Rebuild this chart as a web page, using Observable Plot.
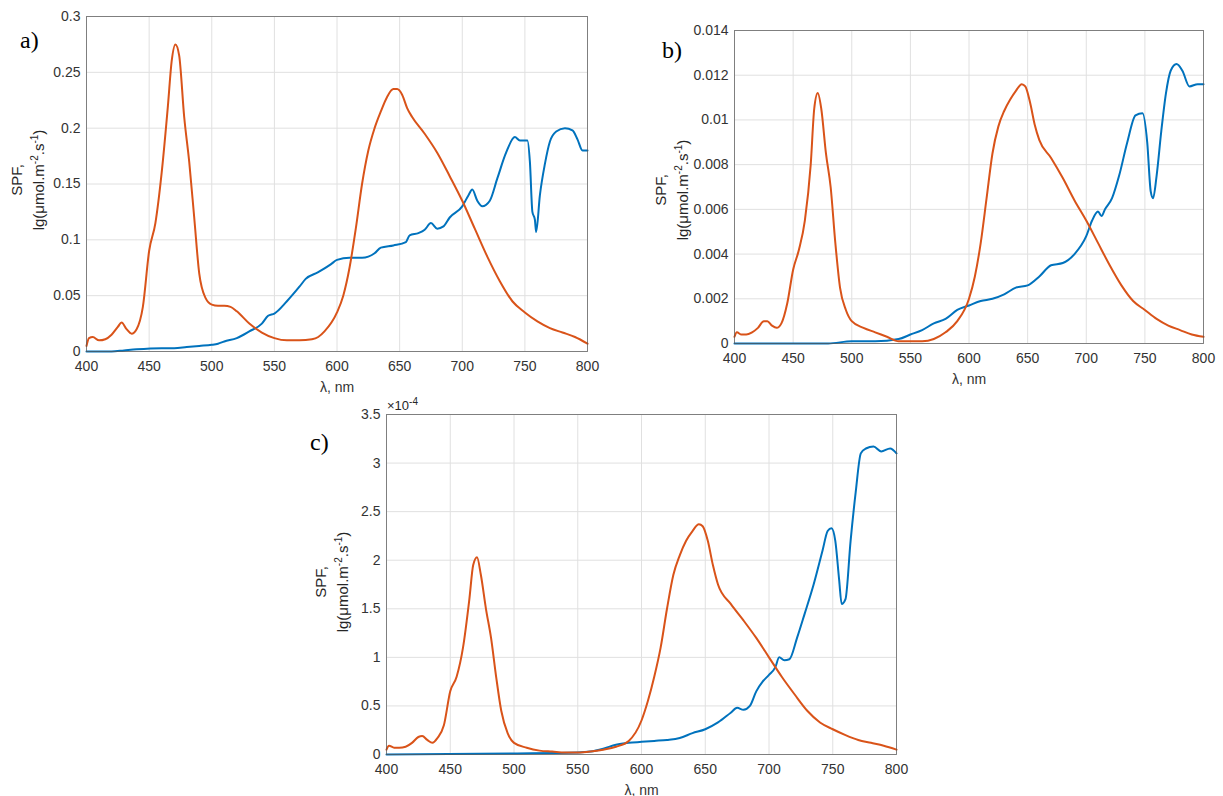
<!DOCTYPE html>
<html>
<head>
<meta charset="utf-8">
<script src="https://cdn.jsdelivr.net/npm/d3@7"></script>
<script src="https://cdn.jsdelivr.net/npm/@observablehq/plot@0.6"></script>
<style>
  body { margin: 0; background: #fff; font-family: "Liberation Sans", Arial, sans-serif; }
  #wrap { position: relative; width: 1223px; height: 796px; overflow: hidden; }
  .panel { position: absolute; }
  .tag { position: absolute; font-family: "Liberation Serif", "DejaVu Serif", serif; font-size: 24px; line-height: 24px; }
  .ylab { position: absolute; transform: rotate(-90deg) translateX(-50%); transform-origin: left top; font-size: 15px; text-align: center; line-height: 18px; white-space: nowrap; color: #262626; }
  .expo { position: absolute; font-size: 13px; color: #262626; }
</style>
</head>
<body>
<div id="wrap"></div>
<script>
"use strict";

// a) wavelengths / values
const a_orange_x = [400,402,405,410,415,420,425,428,432,436,440,445,450,455,460,465,468,471,474,478,482,486,490,495,500,505,510,515,520,530,540,550,560,570,580,585,590,600,605,610,615,620,625,630,635,640,645,648,652,656,660,670,680,690,700,710,720,730,740,750,760,770,780,790,800]
const a_orange_y = [0.005,0.012,0.013,0.010,0.011,0.015,0.022,0.026,0.020,0.016,0.020,0.040,0.090,0.115,0.160,0.220,0.260,0.275,0.265,0.210,0.170,0.120,0.070,0.048,0.042,0.041,0.041,0.040,0.036,0.025,0.017,0.012,0.010,0.010,0.011,0.013,0.018,0.035,0.050,0.075,0.110,0.150,0.180,0.200,0.215,0.228,0.235,0.235,0.230,0.218,0.210,0.195,0.178,0.157,0.135,0.110,0.085,0.063,0.045,0.035,0.027,0.021,0.017,0.013,0.007]
const a_blue_x = [400,420,430,440,460,470,480,490,500,505,510,520,530,540,545,550,560,570,575,585,595,600,610,620,625,630,635,645,655,658,665,670,675,680,685,690,700,705,708,712,716,722,728,735,742,746,752,754,756,758,759,762,766,770,775,782,788,792,796,800]
const a_blue_y = [0,0,0.001,0.002,0.003,0.003,0.004,0.005,0.006,0.007,0.009,0.012,0.018,0.025,0.032,0.034,0.045,0.058,0.065,0.071,0.078,0.082,0.084,0.084,0.085,0.088,0.093,0.095,0.098,0.104,0.106,0.109,0.115,0.110,0.112,0.120,0.130,0.140,0.145,0.135,0.130,0.135,0.155,0.178,0.192,0.189,0.189,0.170,0.125,0.118,0.107,0.140,0.168,0.188,0.197,0.200,0.198,0.190,0.180,0.180]

// b)
const b_orange_x = [400,402,406,410,415,420,425,428,432,436,440,445,450,455,460,465,468,471,474,478,482,486,490,495,500,510,520,530,540,550,560,570,580,590,600,605,610,615,620,625,630,635,640,645,648,652,656,660,670,680,690,700,710,720,730,740,750,760,770,780,790,800]
const b_orange_y = [0.0003,0.0005,0.0004,0.0004,0.0005,0.0007,0.001,0.001,0.0008,0.0007,0.0009,0.0018,0.0033,0.0042,0.0055,0.008,0.0105,0.0112,0.0105,0.0085,0.007,0.0045,0.0025,0.0015,0.001,0.0007,0.0005,0.0003,0.0001,0.0001,0.0001,0.0002,0.0005,0.001,0.002,0.003,0.0045,0.0065,0.0085,0.0097,0.0104,0.0109,0.0113,0.0116,0.0115,0.0108,0.0098,0.0091,0.0083,0.0074,0.0064,0.0055,0.0045,0.0035,0.0026,0.0019,0.0015,0.0011,0.0008,0.0006,0.0004,0.0003]
const b_blue_x = [400,480,500,520,540,550,560,570,580,590,600,610,620,630,640,650,660,670,680,690,700,705,710,713,716,722,728,735,742,748,752,755,757,760,764,768,772,777,782,788,795,800]
const b_blue_y = [0,0,0.0001,0.0001,0.0002,0.0004,0.0006,0.0009,0.0011,0.0015,0.0017,0.0019,0.002,0.0022,0.0025,0.0026,0.003,0.0035,0.0036,0.004,0.0048,0.0055,0.0059,0.0057,0.006,0.0065,0.0075,0.009,0.0102,0.0103,0.009,0.0068,0.0065,0.0075,0.0095,0.0112,0.0122,0.0125,0.0122,0.0115,0.0116,0.0116]

// c) values in units of 1e-4
const c_orange_x = [400,402,406,410,415,420,425,428,432,436,440,445,450,455,460,465,468,471,474,478,482,486,490,495,500,510,520,530,540,550,560,570,580,590,600,605,610,615,620,625,630,635,640,645,648,652,656,660,670,680,690,700,710,720,730,740,750,760,770,780,790,800]
const c_orange_y = [0.05,0.09,0.07,0.07,0.08,0.12,0.18,0.19,0.15,0.12,0.17,0.3,0.65,0.8,1.1,1.6,1.95,2.03,1.85,1.5,1.2,0.8,0.45,0.22,0.12,0.07,0.04,0.03,0.02,0.02,0.03,0.05,0.08,0.14,0.35,0.55,0.8,1.1,1.5,1.85,2.05,2.2,2.3,2.37,2.35,2.2,1.95,1.75,1.55,1.38,1.2,1.0,0.8,0.62,0.45,0.33,0.26,0.2,0.15,0.12,0.09,0.05]
const c_blue_x = [400,500,550,560,570,580,590,600,610,620,630,640,650,660,670,675,680,685,690,695,700,705,708,712,716,722,728,735,742,746,749,752,755,757,760,764,768,772,776,782,788,795,800]
const c_blue_y = [0,0.01,0.02,0.03,0.06,0.1,0.12,0.13,0.14,0.15,0.17,0.22,0.26,0.33,0.43,0.48,0.46,0.5,0.65,0.75,0.82,0.9,1.0,0.97,0.98,1.2,1.45,1.75,2.1,2.3,2.33,2.2,1.8,1.55,1.6,2.2,2.7,3.1,3.15,3.17,3.12,3.15,3.1]

const x_ticks = [400,450,500,550,600,650,700,750,800]
const a_y_ticks = [0,0.05,0.1,0.15,0.2,0.25,0.3]
const b_y_ticks = [0,0.002,0.004,0.006,0.008,0.01,0.012,0.014]
const c_y_ticks = [0,0.5,1,1.5,2,2.5,3,3.5]

const ORANGE = "#D95319"
const BLUE = "#0072BD"
const wrap = document.querySelector("#wrap")
const zip = (xs, ys) => xs.map((x, i) => ({x, y: ys[i]}))

function panel(o) {
   const ml = 60, mt = 12, mr = 14, mb = 44
   const p = Plot.plot({
      width: o.w + ml + mr,
      height: o.h + mt + mb,
      marginLeft: ml, marginTop: mt, marginRight: mr, marginBottom: mb,
      style: {fontFamily: "Liberation Sans, Arial, sans-serif", fontSize: "14px", color: "#333", background: "transparent"},
      x: {domain: [400, 800], ticks: x_ticks, tickSize: 0, tickPadding: 10, label: "λ, nm", labelAnchor: "center", labelArrow: "none", labelOffset: 40},
      y: {domain: [0, o.ymax], ticks: o.yticks, tickSize: 0, tickPadding: 6, label: null, tickFormat: d => d3.format("")(d)},
      marks: [
         Plot.gridX(x_ticks, {stroke: "#e0e0e0", strokeOpacity: 1}),
         Plot.gridY(o.yticks, {stroke: "#e0e0e0", strokeOpacity: 1}),
         Plot.lineY(zip(o.bx, o.by), {x: "x", y: "y", stroke: BLUE, strokeWidth: 2, curve: "monotone-x"}),
         Plot.lineY(zip(o.ox, o.oy), {x: "x", y: "y", stroke: ORANGE, strokeWidth: 2, curve: "monotone-x"}),
         Plot.frame({stroke: "#555", strokeOpacity: 0.7})
      ]
   })
   p.classList.add("panel")
   p.style.left = (o.left - ml) + "px"
   p.style.top = (o.top - mt) + "px"
   wrap.append(p)

   const lab = document.createElement("div")
   lab.className = "ylab"
   lab.innerHTML = "SPF,<br>lg(μmol.m<sup style='font-size:10px'>-2</sup>.s<sup style='font-size:10px'>-1</sup>)"
   lab.style.left = o.labX + "px"
   lab.style.top = o.labY + "px"
   wrap.append(lab)

   const tag = document.createElement("div")
   tag.className = "tag"
   tag.textContent = o.tag
   tag.style.left = o.tagX + "px"
   tag.style.top = o.tagY + "px"
   wrap.append(tag)
}

panel({left: 86, top: 16, w: 501, h: 335, ymax: 0.3, yticks: a_y_ticks,
   ox: a_orange_x, oy: a_orange_y, bx: a_blue_x, by: a_blue_y,
   labX: 8, labY: 180, tag: "a)", tagX: 20, tagY: 28})
panel({left: 734, top: 30, w: 469, h: 313, ymax: 0.014, yticks: b_y_ticks,
   ox: b_orange_x, oy: b_orange_y, bx: b_blue_x, by: b_blue_y,
   labX: 652, labY: 190, tag: "b)", tagX: 662, tagY: 38})
panel({left: 386, top: 414, w: 510, h: 340, ymax: 3.5, yticks: c_y_ticks,
   ox: c_orange_x, oy: c_orange_y, bx: c_blue_x, by: c_blue_y,
   labX: 312, labY: 582, tag: "c)", tagX: 310, tagY: 430})

const ex = document.createElement("div")
ex.className = "expo"
ex.innerHTML = "×10<sup style='font-size:10px'>-4</sup>"
ex.style.left = "387px"
ex.style.top = "396px"
wrap.append(ex)
</script>
</body>
</html>
